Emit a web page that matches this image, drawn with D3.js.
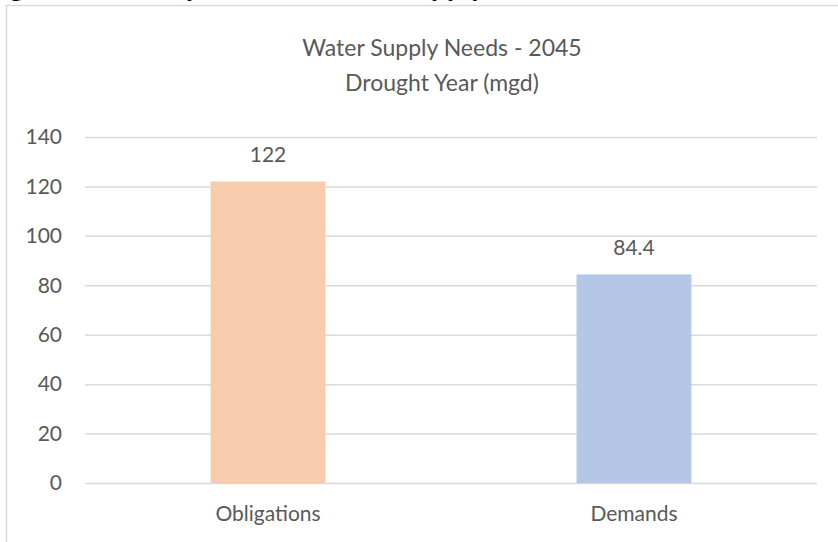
<!DOCTYPE html>
<html>
<head>
<meta charset="utf-8">
<script src="https://cdn.jsdelivr.net/npm/d3@7"></script>
<style>
  body { margin: 0; background: #fff; }
  text { font-family: Lato, "Open Sans", sans-serif; }
</style>
</head>
<body>
<div id="chart"></div>
<script>
// data
const categories = ["Obligations", "Demands"];
const values = [122, 84.4];
const barColors = ["#F8CBAD", "#B4C7E7"];
const yTicks = [0, 20, 40, 60, 80, 100, 120, 140];
const titleLines = ["Water Supply Needs - 2045", "Drought Year (mgd)"];
const captionText = "Figure 4-1: Comparison of Water Supply Needs";

function barChart() {
  const width = 838, height = 542;
  const margin = ({top: 137, right: 21, bottom: 59, left: 85});
  const visWidth = width - margin.left - margin.right;
  const visHeight = height - margin.top - margin.bottom;
  const textColor = "#595959";

  const svg = d3.select("#chart").append("svg")
      .attr("width", width)
      .attr("height", height);

  // caption above the chart, mostly cut off
  svg.append("text")
      .attr("x", -14)
      .attr("y", -4)
      .attr("font-size", 28)
      .attr("font-weight", "bold")
      .attr("fill", "#000")
      .text(captionText);

  // chart frame
  svg.append("rect")
      .attr("x", 6.5)
      .attr("y", 5.5)
      .attr("width", 871)
      .attr("height", 560)
      .attr("fill", "none")
      .attr("stroke", "#d9d9d9")
      .attr("stroke-width", 1.5);

  // title
  svg.append("text")
      .attr("text-anchor", "middle")
      .attr("fill", textColor)
      .attr("font-size", 23)
      .selectAll("tspan")
      .data(titleLines)
      .join("tspan")
        .attr("x", 442)
        .attr("y", (d, i) => 56 + i * 35)
        .text(d => d);

  const x = d3.scaleBand()
      .domain(categories)
      .range([0, visWidth])
      .paddingInner(0.686)
      .paddingOuter(0.343);

  const y = d3.scaleLinear()
      .domain([0, 140])
      .range([visHeight, 0]);

  const g = svg.append("g")
      .attr("transform", `translate(${margin.left}, ${margin.top})`);

  // y axis with grid lines
  g.append("g")
      .call(d3.axisLeft(y).tickValues(yTicks).tickSize(-visWidth).tickPadding(23))
      .call(g => g.select(".domain").remove())
      .call(g => g.selectAll(".tick line").attr("stroke", "#d9d9d9").attr("stroke-width", 1.5))
      .call(g => g.selectAll(".tick text")
        .attr("fill", textColor)
        .attr("font-size", 21)
        .attr("font-family", "Lato, sans-serif"));

  // x axis labels
  g.append("g")
      .attr("transform", `translate(0, ${visHeight})`)
      .call(d3.axisBottom(x).tickSize(0).tickPadding(23))
      .call(g => g.select(".domain").remove())
      .call(g => g.selectAll(".tick text")
        .attr("fill", textColor)
        .attr("font-size", 21)
        .attr("font-family", "Lato, sans-serif"));

  // bars
  g.selectAll("rect.bar")
    .data(categories)
    .join("rect")
      .attr("class", "bar")
      .attr("x", d => x(d))
      .attr("width", x.bandwidth())
      .attr("y", (d, i) => y(values[i]))
      .attr("height", (d, i) => visHeight - y(values[i]))
      .attr("fill", (d, i) => barColors[i]);

  // data labels
  g.selectAll("text.label")
    .data(categories)
    .join("text")
      .attr("class", "label")
      .attr("x", d => x(d) + x.bandwidth() / 2)
      .attr("y", (d, i) => y(values[i]) - 19)
      .attr("text-anchor", "middle")
      .attr("fill", textColor)
      .attr("font-size", 21)
      .text((d, i) => values[i]);
}

window.onload = barChart;
</script>
</body>
</html>
